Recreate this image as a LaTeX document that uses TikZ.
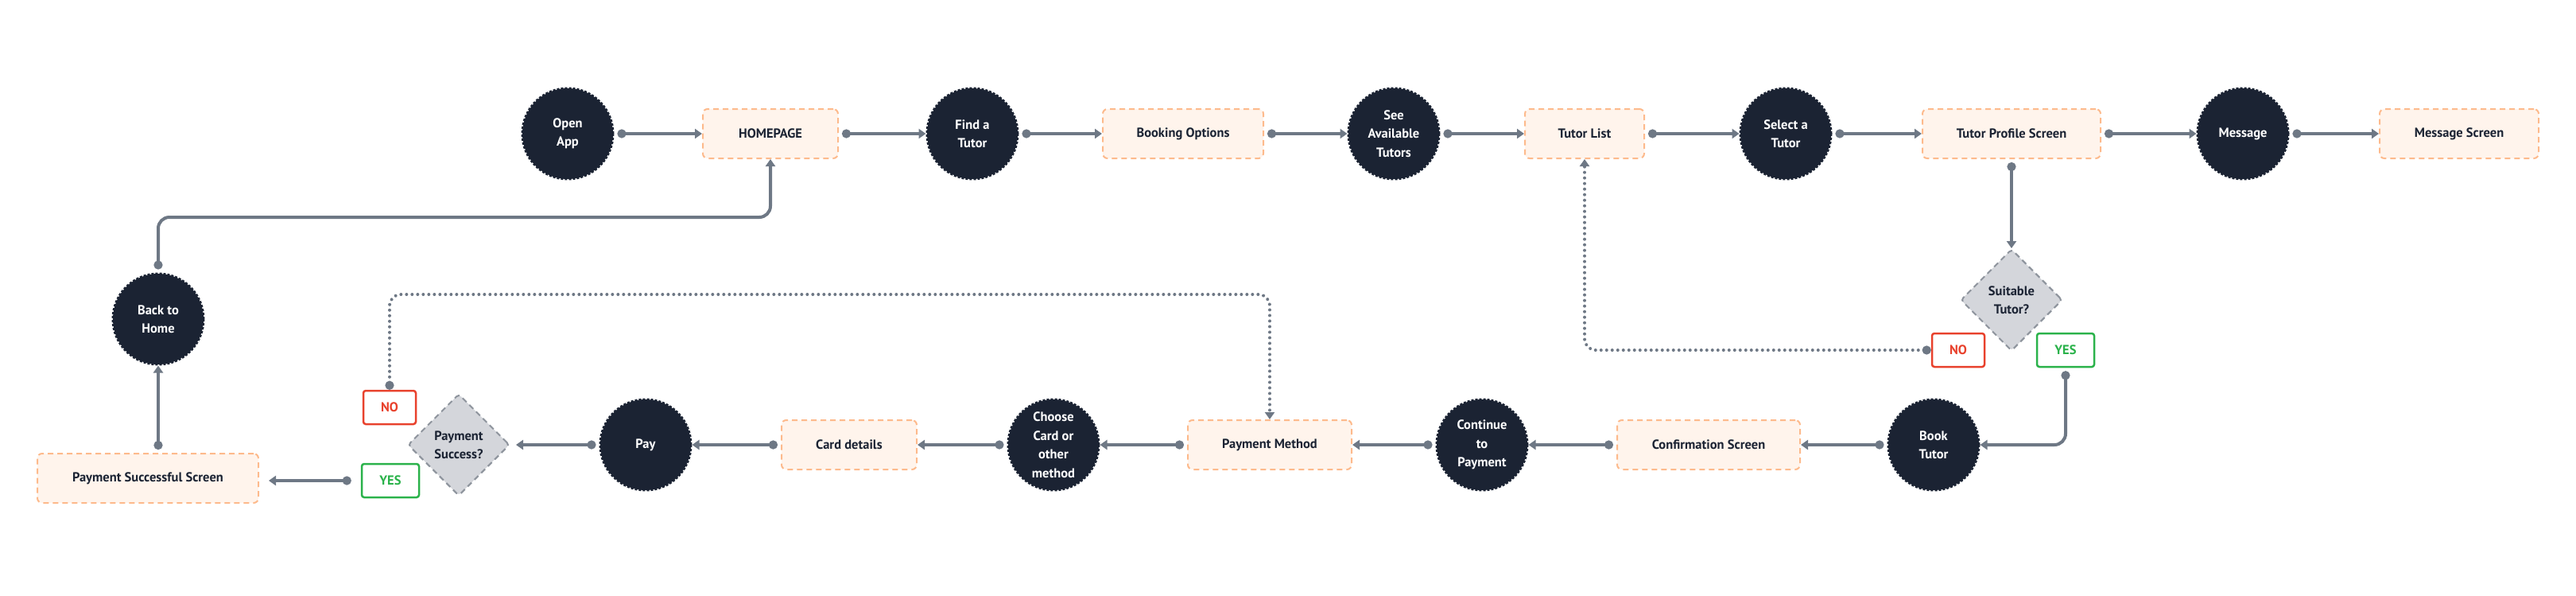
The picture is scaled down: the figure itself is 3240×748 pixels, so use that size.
\documentclass[tikz,border=0pt]{standalone}
\usepackage{fontspec}
\setmainfont{PT Sans}
\usetikzlibrary{shapes.geometric,arrows.meta}
\definecolor{navy}{HTML}{1B2333}
\definecolor{peach}{HTML}{FFF4EC}
\definecolor{peachline}{HTML}{FDBA8C}
\definecolor{lgray}{HTML}{D4D6DB}
\definecolor{dgray}{HTML}{8D939C}
\definecolor{cgray}{HTML}{6E7885}
\definecolor{nored}{HTML}{E8412C}
\definecolor{yesgreen}{HTML}{2AB24A}
\begin{document}
\begin{tikzpicture}[x=1pt,y=-1pt,
  every node/.style={font=\fontsize{16.5}{23.5}\selectfont\bfseries, align=center},
  circ/.style={circle, fill=navy, draw=navy, line width=3pt, dash pattern=on 3pt off 2pt, minimum size=114pt, inner sep=0pt, text=white},
  scr/.style={rectangle, rounded corners=6pt, fill=peach, draw=peachline, line width=2pt, dash pattern=on 7pt off 5pt, minimum height=62pt, text=navy},
  dec/.style={diamond, aspect=1, fill=lgray, draw=dgray, line width=2pt, dash pattern=on 7pt off 5pt, minimum width=128pt, minimum height=128pt, inner sep=0pt, rounded corners=4pt, text=navy},
  nob/.style={rectangle, rounded corners=3pt, draw=nored, line width=2.5pt, text=nored, fill=white, minimum width=66pt, minimum height=42pt},
  yesb/.style={rectangle, rounded corners=3pt, draw=yesgreen, line width=2.5pt, text=yesgreen, fill=white, minimum width=72pt, minimum height=42pt},
  conn/.style={draw=cgray, line width=4pt, {Circle[length=11pt,width=11pt]}-{Triangle[length=9pt,width=12pt]}, shorten <=4pt, rounded corners=14pt},
  dots/.style={draw=cgray, line width=4pt, line cap=round, dash pattern=on 0pt off 7pt, rounded corners=14pt, {Circle[length=11pt,width=11pt]}-{Triangle[length=9pt,width=12pt]}}
]
\path[use as bounding box] (0,0) rectangle (3240,748);

% top row
\node[circ] (open) at (714,168) {Open\\App};
\node[scr, minimum width=170pt] (home) at (969,168) {HOMEPAGE};
\node[circ] (find) at (1223,168) {Find a\\Tutor};
\node[scr, minimum width=202pt] (booking) at (1488,168) {Booking Options};
\node[circ] (see) at (1753,168) {See\\Available\\Tutors};
\node[scr, minimum width=150pt] (tlist) at (1993,168) {Tutor List};
\node[circ] (select) at (2246,168) {Select a\\Tutor};
\node[scr, minimum width=224pt] (profile) at (2530,168) {Tutor Profile Screen};
\node[circ] (message) at (2821,168) {Message};
\node[scr, minimum width=200pt] (msgscreen) at (3093,168) {Message Screen};

% decision tutor
\node[dec] (suitable) at (2530,377) {Suitable\\Tutor?};
\node[nob] (no1) at (2463,440) {NO};
\node[yesb] (yes1) at (2598,440) {YES};

% bottom row
\node[circ] (book) at (2432,559) {Book\\Tutor};
\node[scr, minimum width=230pt] (confirm) at (2149,559) {Confirmation Screen};
\node[circ] (cont) at (1864,559) {Continue\\to\\Payment};
\node[scr, minimum width=206pt] (paymethod) at (1597,559) {Payment Method};
\node[circ] (choose) at (1325,559) {Choose\\Card or\\other\\method};
\node[scr, minimum width=170pt] (card) at (1068,559) {Card details};
\node[circ] (pay) at (812,559) {Pay};
\node[dec] (paysucc) at (577,559) {Payment\\Success?};
\node[nob] (no2) at (490,512) {NO};
\node[yesb] (yes2) at (491,604) {YES};
\node[scr, minimum width=278pt] (success) at (186,601) {Payment Successful Screen};
\node[circ] (back) at (199,401) {Back to\\Home};

\coordinate (hy) at (0,273);
\coordinate (py) at (0,370);

% top row connectors
\draw[conn] (open) -- (home);
\draw[conn] (home) -- (find);
\draw[conn] (find) -- (booking);
\draw[conn] (booking) -- (see);
\draw[conn] (see) -- (tlist);
\draw[conn] (tlist) -- (select);
\draw[conn] (select) -- (profile);
\draw[conn] (profile) -- (message);
\draw[conn] (message) -- (msgscreen);

\draw[conn] (profile.south) -- (suitable.north);
\draw[dots] (no1.west) -- (tlist.south |- no1.west) -- (tlist.south);
\draw[conn] (yes1.south) |- (book.east);

% bottom row connectors
\draw[conn] (book) -- (confirm);
\draw[conn] (confirm) -- (cont);
\draw[conn] (cont) -- (paymethod);
\draw[conn] (paymethod) -- (choose);
\draw[conn] (choose) -- (card);
\draw[conn] (card) -- (pay);
\draw[conn, shorten >=7pt] (pay) -- (paysucc);
\draw[dots] (no2.north) -- (no2.north |- py) -- (paymethod.north |- py) -- (paymethod.north);
\draw[conn, shorten <=12pt, shorten >=12pt] (yes2.west) -- (success.east |- yes2.west);
\draw[conn] (back.south |- success.north) -- (back.south);
\draw[conn] (back.north) -- (back.north |- hy) -- (home.south |- hy) -- (home.south);
\end{tikzpicture}
\end{document}
